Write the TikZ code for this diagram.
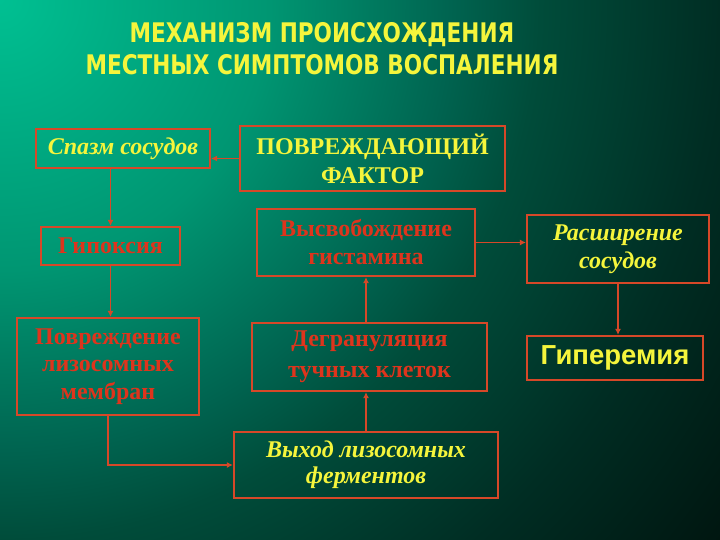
\documentclass[tikz,border=0pt]{standalone}
\usepackage{fontspec}
\setmainfont{Liberation Serif}
\newfontfamily\titlefont[FakeStretch=0.8]{DejaVu Sans}
\newfontfamily\arialfont{Liberation Sans}
\usetikzlibrary{arrows.meta}
\definecolor{bgA}{RGB}{0,192,146}
\definecolor{bgB}{RGB}{0,150,114}
\definecolor{bgC}{RGB}{0,100,80}
\definecolor{bgD}{RGB}{0,76,58}
\definecolor{bgE}{RGB}{0,45,35}
\definecolor{bgF}{RGB}{0,22,16}
\pgfdeclareradialshading{bgrad}{\pgfpointorigin}{color(0bp)=(bgA); color(7.5bp)=(bgB); color(12.5bp)=(bgC); color(15bp)=(bgD); color(20bp)=(bgE); color(25bp)=(bgF); color(50bp)=(bgF)}
\definecolor{edge}{RGB}{214,72,40}
\definecolor{redtxt}{RGB}{222,52,28}
\definecolor{yel}{RGB}{245,245,60}
\tikzset{
  box/.style={draw=edge, line width=2.2pt, inner sep=0pt, align=center},
  arr/.style={draw=edge, line width=1.6pt, -{Latex[length=6pt,width=6pt]}},
  ytxt/.style={text=yel},
  rtxt/.style={text=redtxt},
  serif24/.style={font=\bfseries\fontsize{24}{29}\selectfont},
  serifit24/.style={font=\bfseries\itshape\fontsize{24}{29}\selectfont},
}
\begin{document}
\begin{tikzpicture}[x=1pt,y=-1pt]
\useasboundingbox (0,0) rectangle (720,540);
\begin{scope}
\clip (0,0) rectangle (720,540);
\shade[shading=bgrad] (0,0) circle (900pt);
\end{scope}
\node[ytxt, font=\titlefont\bfseries\fontsize{27}{32}\selectfont, align=center] (title) at (322,49) {МЕХАНИЗМ ПРОИСХОЖДЕНИЯ\\МЕСТНЫХ СИМПТОМОВ ВОСПАЛЕНИЯ};
\node[box, ytxt, minimum width=174pt, minimum height=39pt, serifit24] (spazm) at (123,148.5) {Спазм сосудов};
\node[box, rtxt, minimum width=139pt, minimum height=38pt, serif24] (hypox) at (110.5,246) {Гипоксия};
\node[box, rtxt, minimum width=182pt, minimum height=97pt, font=\bfseries\fontsize{24}{27.5}\selectfont] (povr) at (108,366.5) {Повреждение\\лизосомных\\мембран};
\node[box, ytxt, minimum width=265pt, minimum height=65pt, serif24] (factor) at (372.5,158.5) {ПОВРЕЖДАЮЩИЙ\\ФАКТОР};
\node[box, rtxt, minimum width=218pt, minimum height=67pt, font=\bfseries\fontsize{24}{28}\selectfont] (hist) at (366,242.5) {Высвобождение\\гистамина};
\node[box, rtxt, minimum width=235pt, minimum height=68pt, font=\bfseries\fontsize{24}{31}\selectfont] (degr) at (369.5,357) {Дегрануляция\\тучных клеток};
\node[box, ytxt, minimum width=264pt, minimum height=66pt, font=\bfseries\itshape\fontsize{24}{26}\selectfont] (vyhod) at (366,465) {Выход лизосомных\\ферментов};
\node[box, ytxt, minimum width=182pt, minimum height=68pt, font=\bfseries\itshape\fontsize{24}{28}\selectfont] (rassh) at (618,249) {Расширение\\сосудов};
\node[box, ytxt, minimum width=176pt, minimum height=44pt, font=\arialfont\bfseries\fontsize{27.5}{30}\selectfont] (hyper) at (615,358) {Гиперемия};
\draw[arr] (factor.west) -- (factor.west -| spazm.east);
\draw[arr] (spazm.south -| hypox.north) -- (hypox.north);
\draw[arr] (hypox.south) -- (hypox.south |- povr.north);
\draw[arr] (povr.south) |- (vyhod.west);
\draw[arr] (vyhod.north) -- (vyhod.north |- degr.south);
\draw[arr] (degr.north -| hist.south) -- (hist.south);
\draw[arr] (hist.east) -- (hist.east -| rassh.west);
\draw[arr] (rassh.south) -- (rassh.south |- hyper.north);
\end{tikzpicture}
\end{document}
